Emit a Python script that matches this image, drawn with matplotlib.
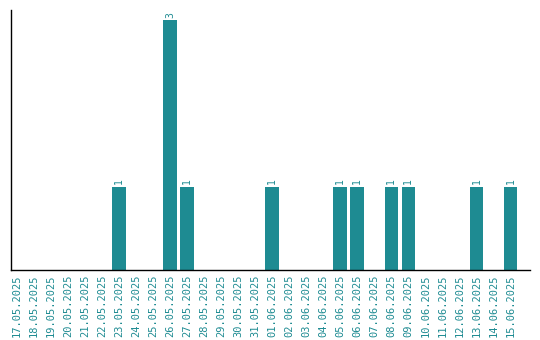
import numpy as np
import matplotlib
matplotlib.use("Agg")
from matplotlib import pyplot as plt

dates = ['17.05.2025', '18.05.2025', '19.05.2025', '20.05.2025', '21.05.2025',
         '22.05.2025', '23.05.2025', '24.05.2025', '25.05.2025', '26.05.2025',
         '27.05.2025', '28.05.2025', '29.05.2025', '30.05.2025', '31.05.2025',
         '01.06.2025', '02.06.2025', '03.06.2025', '04.06.2025', '05.06.2025',
         '06.06.2025', '07.06.2025', '08.06.2025', '09.06.2025', '10.06.2025',
         '11.06.2025', '12.06.2025', '13.06.2025', '14.06.2025', '15.06.2025']
counts = [0, 0, 0, 0, 0, 0, 1, 0, 0, 3,
          1, 0, 0, 0, 0, 1, 0, 0, 0, 1,
          1, 0, 1, 1, 0, 0, 0, 1, 0, 1]

color = '#1e8b92'

fig = plt.figure(figsize=(5.4, 3.4), dpi=100)
ax = fig.add_axes([11 / 540, 70 / 340, 519 / 540, 260 / 340])

x = np.arange(len(dates))
ax.bar(x, counts, width=0.8, color=color)
for xi, c in zip(x, counts):
    if c > 0:
        ax.text(xi, c + 0.03, str(c), rotation=90, ha='center', va='bottom',
                color=color, fontsize=7, family='DejaVu Sans Mono')

ax.set_xlim(-0.35, 30.15)
ax.set_ylim(0, 3.12)
ax.set_xticks(x)
ax.set_xticklabels(dates, rotation=90, color=color, fontsize=7.5, family='DejaVu Sans Mono')
ax.set_yticks([])
ax.tick_params(axis='x', length=0, pad=3)
ax.spines['top'].set_visible(False)
ax.spines['right'].set_visible(False)
ax.spines['left'].set_linewidth(1.0)
ax.spines['bottom'].set_linewidth(1.0)

fig.savefig("out.png", dpi=100)
